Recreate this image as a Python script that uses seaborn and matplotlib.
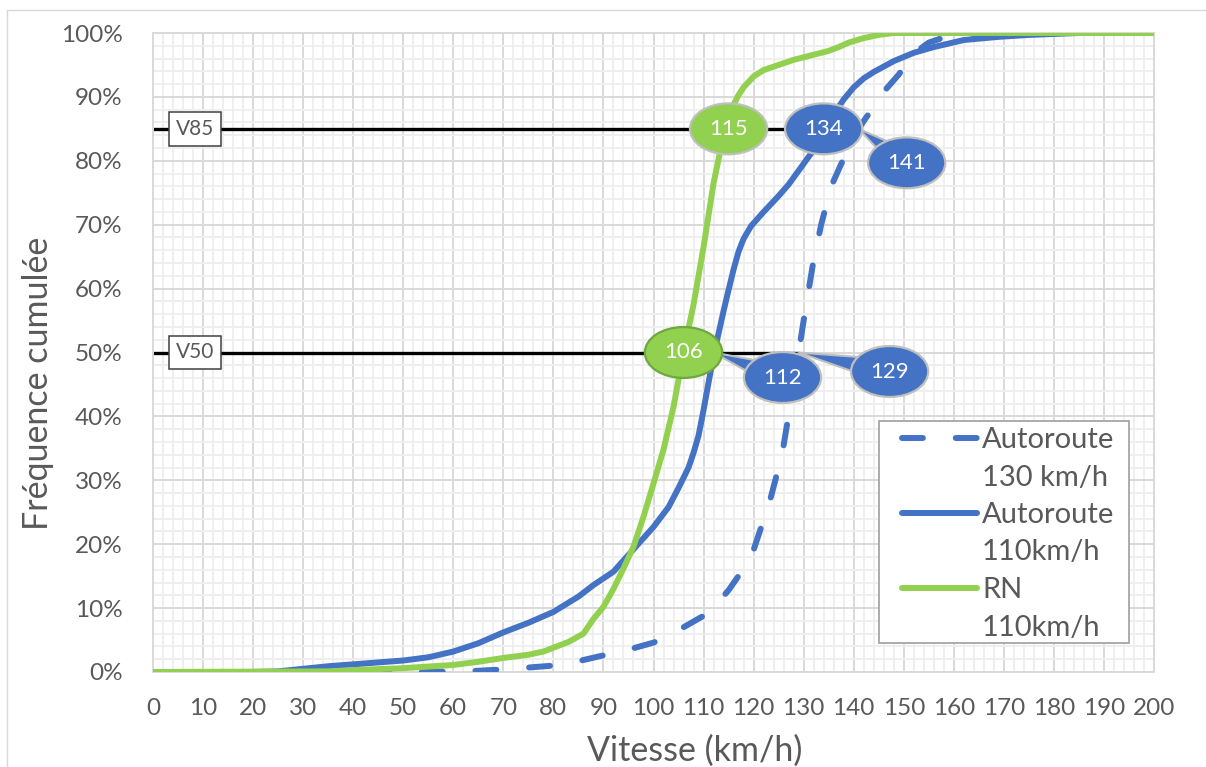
import matplotlib
matplotlib.use("Agg")
import matplotlib.pyplot as plt
from matplotlib.ticker import MultipleLocator, FuncFormatter
from matplotlib.lines import Line2D
from matplotlib.patches import Rectangle
import seaborn as sns

# Cumulative speed distributions: speed (km/h) -> cumulative share of vehicles (%)
speed_a130 = [0, 55, 60, 65, 70, 75, 80, 85, 90, 95, 100, 103, 106, 110, 113, 115,
              117.5, 120, 122, 123.5, 125, 126, 127, 128, 129, 130, 131, 132, 133.5,
              135.5, 137.5, 140, 141, 142.5, 144, 146, 149, 152, 155, 158, 162, 166, 200]
freq_a130 = [0, 0, 0.1, 0.2, 0.4, 0.7, 1.0, 1.7, 2.6, 3.5, 4.6, 5.6, 7.0, 8.8, 11.0, 12.8,
             15.6, 19.1, 23.8, 27.5, 32.0, 35.5, 40.2, 44.5, 50.0, 55.0, 59.8, 64.5, 70.0,
             76.0, 79.5, 83.7, 85.0, 86.8, 88.3, 90.8, 93.5, 96.8, 98.5, 99.3, 99.8, 100, 100]

speed_a110 = [0, 20, 25, 30, 35, 40, 45, 50, 55, 60, 65, 70, 75, 80, 85, 88, 92, 96, 100,
              103, 105, 107, 108, 109, 110, 111, 112, 113, 114, 115, 116, 117, 118, 119.5,
              122, 125, 127, 129.5, 132, 134, 136, 138, 140, 142, 144, 148, 152, 156, 162,
              169, 175, 185, 200]
freq_a110 = [0, 0, 0.1, 0.5, 0.9, 1.2, 1.5, 1.8, 2.3, 3.2, 4.5, 6.2, 7.7, 9.4, 11.8, 13.6,
             15.7, 19.2, 22.7, 25.8, 28.8, 32.0, 34.3, 37.0, 41.0, 45.3, 49.5, 53.0, 56.5,
             59.8, 63.0, 65.8, 67.8, 69.8, 72.0, 74.5, 76.3, 79.0, 81.7, 84.5, 87.3, 89.6,
             91.5, 92.9, 93.9, 95.6, 96.9, 97.8, 98.9, 99.4, 99.7, 100, 100]

speed_rn = [0, 35, 40, 50, 60, 65, 70, 75, 78, 80, 83, 86, 88, 90, 92, 94, 96, 98, 100,
            102, 104, 106, 108, 110, 112, 114, 115, 116, 117, 118, 120, 122, 125, 128, 131,
            135, 137, 139, 142, 145, 148, 200]
freq_rn = [0, 0.1, 0.3, 0.6, 1.1, 1.6, 2.2, 2.7, 3.2, 3.8, 4.7, 6.0, 8.3, 10.2, 13.0, 16.2,
           19.6, 24.3, 29.5, 34.8, 41.5, 50.0, 57.5, 66.5, 76.5, 84.0, 86.8, 88.8, 90.3,
           91.5, 93.2, 94.2, 95.0, 95.8, 96.4, 97.2, 97.8, 98.5, 99.2, 99.7, 100, 100]

series_speeds = [speed_a130, speed_a110, speed_rn]
series_freqs = [freq_a130, freq_a110, freq_rn]
series_labels = [["Autoroute", "130 km/h"], ["Autoroute", "110km/h"], ["RN", "110km/h"]]
series_colors = ["#4472C4", "#4472C4", "#92D050"]
series_dashed = [True, False, False]

# Speeds reached by 50 % and 85 % of the vehicles, per series
v50 = [129, 112, 106]
v85 = [141, 134, 115]
levels = [50, 85]
level_labels = ["V50", "V85"]

x_ticks = list(range(0, 201, 10))
y_ticks = list(range(0, 101, 10))

W, H = 1206, 767
TXT = "#595959"

sns.set_theme(style="white")
plt.rcParams["font.family"] = ["Lato", "DejaVu Sans"]

fig = plt.figure(figsize=(W / 100, H / 100), dpi=100)
ax = fig.add_axes([153 / W, 1 - 672 / H, (1154 - 153) / W, (672 - 33) / H])


def fig_xy(px, py):
    return px / W, 1 - py / H


# grid
ax.set_xlim(0, 200)
ax.set_ylim(0, 100)
ax.set_xticks(x_ticks)
ax.set_yticks(y_ticks)
ax.xaxis.set_minor_locator(MultipleLocator(2))
ax.yaxis.set_minor_locator(MultipleLocator(2))
ax.grid(which="minor", color="#EFEFEF", lw=1.4)
ax.grid(which="major", color="#D9D9D9", lw=1.4)
ax.set_axisbelow(True)
for sp in ax.spines.values():
    sp.set_color("#D9D9D9")
    sp.set_linewidth(1.4)
ax.yaxis.set_major_formatter(FuncFormatter(lambda v, _: f"{v:.0f}%"))
ax.tick_params(which="both", length=0)
ax.tick_params(axis="x", labelsize=17.5, labelcolor=TXT, pad=19)
ax.tick_params(axis="y", labelsize=17.5, labelcolor=TXT, pad=22)

# curves
styles = []
for xs, ys, color, dashed in zip(series_speeds, series_freqs, series_colors, series_dashed):
    if dashed:
        st = dict(linestyle=(0, (3.5, 5.5)), dash_capstyle="round")
    else:
        st = dict(linestyle="-", solid_capstyle="round", solid_joinstyle="round")
    styles.append(st)
    sns.lineplot(x=xs, y=ys, ax=ax, color=color, lw=4.3, sort=False,
                 estimator=None, legend=False, zorder=3, **st)

# V50 / V85 reference lines
for lvl, lab, vals in zip(levels, level_labels, [v50, v85]):
    ax.plot([0, max(vals)], [lvl, lvl], color="black", lw=2.4, zorder=2,
            solid_capstyle="butt")
    ax.text(0.042, lvl, lab, transform=ax.get_yaxis_transform(), ha="center",
            va="center", fontsize=15, color=TXT, zorder=5,
            bbox=dict(boxstyle="square,pad=0.33", fc="white", ec="#404040", lw=1.1))

# oval callouts with the speed at each level (offsets in pixels)
offsets = {50: [(91, -19), (69, -25), (0, 0)],
           85: [(48, -34), (0, 0), (0, 0)]}
for lvl, vals in zip(levels, [v50, v85]):
    for i, v in enumerate(vals):
        color = series_colors[i]
        ec = "#6EA83E" if (i == 2 and lvl == 50) else "#BFBFBF"
        dx, dy = offsets[lvl][i]
        kw = dict(xy=(v, lvl), xytext=(dx, dy), textcoords="offset pixels",
                  ha="center", va="center", fontsize=16, color="white", zorder=6,
                  bbox=dict(boxstyle="ellipse,pad=0.36", fc=color, ec=ec, lw=1.6))
        if dx or dy:
            kw["arrowprops"] = dict(arrowstyle="wedge,tail_width=1.1,shrink_factor=0.5",
                                    fc=color, ec="#BFBFBF", lw=1.5, patchA=None,
                                    shrinkA=0, shrinkB=0)
        ax.annotate(f"{v}", **kw)

# axis titles
ax.set_xlabel("Vitesse (km/h)", fontsize=24.5, color=TXT)
ax.xaxis.set_label_coords((695 - 153) / 1001, (672 - 751) / 639)
ax.xaxis.label.set_va("center")
ax.set_ylabel("Fréquence cumulée", fontsize=24.5, color=TXT)
ax.yaxis.set_label_coords((38 - 153) / 1001, (672 - 383) / 639)
ax.yaxis.label.set_va("center")

# legend
fig.add_artist(Rectangle(fig_xy(879, 643), 250 / W, 222 / H, transform=fig.transFigure,
                         fc="white", ec="#A6A6A6", lw=1.3, zorder=10))
for k, (lab, color, st) in enumerate(zip(series_labels, series_colors, styles)):
    y0 = 438 + 75 * k
    (x1, y1), (x2, _) = fig_xy(902, y0), fig_xy(977, y0)
    fig.add_artist(Line2D([x1, x2], [y1, y1], transform=fig.transFigure, color=color,
                          lw=4.3, zorder=11, **st))
    for j, line in enumerate(lab):
        fig.text(*fig_xy(982, y0 + 10 + 37.5 * j), line, va="baseline", ha="left",
                 fontsize=21, color=TXT, zorder=11)

# chart area frame
fig.add_artist(Line2D([7 / W, 1], [1 - 10 / H, 1 - 10 / H], transform=fig.transFigure,
                      color="#D9D9D9", lw=1))
fig.add_artist(Line2D([7 / W, 7 / W], [0, 1 - 10 / H], transform=fig.transFigure,
                      color="#D9D9D9", lw=1))

fig.savefig("out.png", dpi=100, facecolor="white")
